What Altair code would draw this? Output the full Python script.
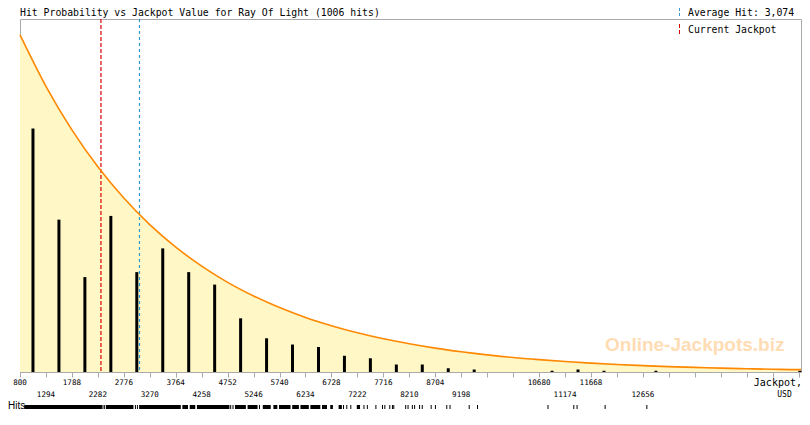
import altair as alt
import pandas as pd

# jackpot axis in USD
x_min, x_max = 800, 15665
tick_values = [800, 1294, 1788, 2282, 2776, 3270, 3764, 4258, 4752, 5246, 5740,
               6234, 6728, 7222, 7716, 8210, 8704, 9198, 9692, 10186, 10680,
               11174, 11668, 12162, 12656, 13150, 13644, 14138, 14632, 15126, 15620]
tick_labels = [800, 1294, 1788, 2282, 2776, 3270, 3764, 4258, 4752, 5246, 5740,
               6234, 6728, 7222, 7716, 8210, 8704, 9198, 10680, 11174, 11668, 12656]
bin_width = 494

# histogram of hits per jackpot bin (lower edge of bin)
bin_start = [800, 1294, 1788, 2282, 2776, 3270, 3764, 4258, 4752, 5246, 5740,
             6234, 6728, 7222, 7716, 8210, 8704, 9198, 10680, 11174, 11668, 12656, 15620]
bin_hits = [195, 122, 76, 125, 80, 99, 80, 70, 43, 27, 22, 20, 13, 11, 6, 6, 3, 2,
            1, 2, 1, 1, 1]

# probability curve, read at every tick (same units as hits)
curve_usd = tick_values + [15665]
curve_val = [270, 228.8, 193.9, 164.3, 139.3, 118.0, 100.0, 84.8, 71.8, 60.9, 51.6,
             43.7, 37.1, 31.4, 26.6, 22.6, 19.1, 16.2, 13.7, 11.6, 9.9, 8.4, 7.1,
             6.0, 5.1, 4.3, 3.7, 3.1, 2.6, 2.2, 1.9, 1.9]

# individual hits rug: dense runs and single hits
rug_lo = [881, 2436, 3067, 3890, 4030, 4168, 4892, 5132, 5421, 5623, 5730, 5981,
          6138, 6327, 6548, 6705, 6864, 7210]
rug_hi = [2360, 2959, 3860, 3998, 4136, 4786, 5099, 5321, 5572, 5698, 5949, 6108,
          6297, 6516, 6643, 6756, 6926, 7272]
rug_single = [2379, 2411, 2997, 3035, 4810, 4854, 5358, 6958, 7020, 7096, 7347, 7411,
              7574, 7700, 7744, 7838, 7889, 7914, 8141, 8186, 8267, 8311, 8405, 8456,
              8626, 8707, 8923, 8985, 9350, 9508, 10849, 11341, 11403, 11937, 12731]

game = "Ray Of Light"
total_hits = 1006
average_hit = 3074
current_jackpot = 2341

W, H = 781, 353
y_top = 282.7
MONO = "DejaVu Sans Mono"

xenc = alt.X("usd:Q", scale=alt.Scale(domain=[x_min, x_max], nice=False, zero=False, padding=0),
             axis=alt.Axis(values=tick_values, labels=False, grid=False, title=None,
                           tickSize=5, tickColor="#aaaaaa", domainColor="#aaaaaa"))
yenc = alt.Y("hits:Q", scale=alt.Scale(domain=[0, y_top], nice=False, padding=0), axis=None)

curve_df = pd.DataFrame({"usd": curve_usd, "hits": curve_val})
bars_df = pd.DataFrame({"start": bin_start, "hits": bin_hits})
bars_df["usd"] = [min(s + bin_width / 2, (s + x_max) / 2) for s in bin_start]

area = alt.Chart(curve_df).mark_area(color="#fff8c6", interpolate="monotone").encode(x=xenc, y=yenc)
curve = alt.Chart(curve_df).mark_line(color="#ff8800", strokeWidth=1.6, interpolate="monotone").encode(x=xenc, y=yenc)
bars = alt.Chart(bars_df).mark_bar(color="black", size=3).encode(x=xenc, y=yenc)

jackpot_rule = alt.Chart(pd.DataFrame({"usd": [current_jackpot]})).mark_rule(
    stroke="#dd0000", strokeDash=[4, 2], strokeWidth=1.2).encode(x=xenc)
avg_rule = alt.Chart(pd.DataFrame({"usd": [average_hit]})).mark_rule(
    stroke="#3399cc", strokeDash=[3, 3], strokeWidth=1.2).encode(x=xenc)

watermark = alt.Chart(pd.DataFrame({"t": ["Online-Jackpots.biz"]})).mark_text(
    font="Liberation Sans", fontWeight="bold", fontSize=19, color="#ffdcb4",
    align="left", baseline="alphabetic").encode(x=alt.value(W - 196), y=alt.value(332), text="t:N")

lab_df = pd.DataFrame({"usd": tick_labels, "row": [i % 2 for i in range(len(tick_labels))]})
lab_df["txt"] = lab_df["usd"].astype(str)
labels_a = alt.Chart(lab_df).transform_filter("datum.row == 0").mark_text(
    font=MONO, fontSize=7.6, baseline="alphabetic").encode(x=xenc, y=alt.value(H + 13), text="txt:N")
labels_b = alt.Chart(lab_df).transform_filter("datum.row == 1").mark_text(
    font=MONO, fontSize=7.6, baseline="alphabetic").encode(x=xenc, y=alt.value(H + 25), text="txt:N")

axis_name = alt.Chart(pd.DataFrame({"t": ["Jackpot,"]})).mark_text(
    font=MONO, fontSize=10, align="right", baseline="alphabetic").encode(
    x=alt.value(W + 1), y=alt.value(H + 14), text="t:N")
axis_unit = alt.Chart(pd.DataFrame({"t": ["USD"]})).mark_text(
    font=MONO, fontSize=8, baseline="alphabetic").encode(
    x=alt.value(W - 16.5), y=alt.value(H + 25), text="t:N")

hits_name = alt.Chart(pd.DataFrame({"t": ["Hits"]})).mark_text(
    font="Liberation Sans", fontSize=10, align="left", baseline="alphabetic").encode(
    x=alt.value(-12), y=alt.value(H + 37), text="t:N")
rug_runs = alt.Chart(pd.DataFrame({"usd": rug_lo, "usd2": rug_hi})).mark_rect(color="black").encode(
    x=xenc, x2="usd2:Q", y=alt.value(H + 33), y2=alt.value(H + 37))
rug_ticks = alt.Chart(pd.DataFrame({"usd": rug_single})).mark_rule(color="black", strokeWidth=1).encode(
    x=xenc, y=alt.value(H + 33), y2=alt.value(H + 37))

title = alt.Chart(pd.DataFrame({"t": [f"Hit Probability vs Jackpot Value for {game} ({total_hits} hits)"]})).mark_text(
    font=MONO, fontSize=9.8, align="left", baseline="alphabetic").encode(
    x=alt.value(0), y=alt.value(-3), text="t:N")

avg_key = alt.Chart(pd.DataFrame({"k": [0]})).mark_rule(
    stroke="#3399cc", strokeDash=[3, 2]).encode(x=alt.value(W - 121.5), y=alt.value(-11), y2=alt.value(-1))
avg_text = alt.Chart(pd.DataFrame({"t": [f"Average Hit: {average_hit:,}"]})).mark_text(
    font=MONO, fontSize=9.8, align="left", baseline="alphabetic").encode(
    x=alt.value(W - 113), y=alt.value(-3), text="t:N")
cur_key = alt.Chart(pd.DataFrame({"k": [0]})).mark_rule(
    stroke="#dd0000", strokeDash=[4, 2]).encode(x=alt.value(W - 121.5), y=alt.value(5), y2=alt.value(17))
cur_text = alt.Chart(pd.DataFrame({"t": ["Current Jackpot"]})).mark_text(
    font=MONO, fontSize=9.8, align="left", baseline="alphabetic").encode(
    x=alt.value(W - 113), y=alt.value(14), text="t:N")

chart = alt.layer(
    area, watermark, bars, jackpot_rule, avg_rule, curve,
    labels_a, labels_b, axis_name, axis_unit,
    rug_runs, rug_ticks, hits_name,
    title, avg_key, avg_text, cur_key, cur_text,
).properties(
    width=W, height=H,
    padding={"left": 12, "top": 11, "right": 1, "bottom": 38},
    autosize=alt.AutoSizeParams(type="none"),
).configure_view(stroke="#aaaaaa")

chart.save("out.html", embed_options={"renderer": "svg", "actions": False})
